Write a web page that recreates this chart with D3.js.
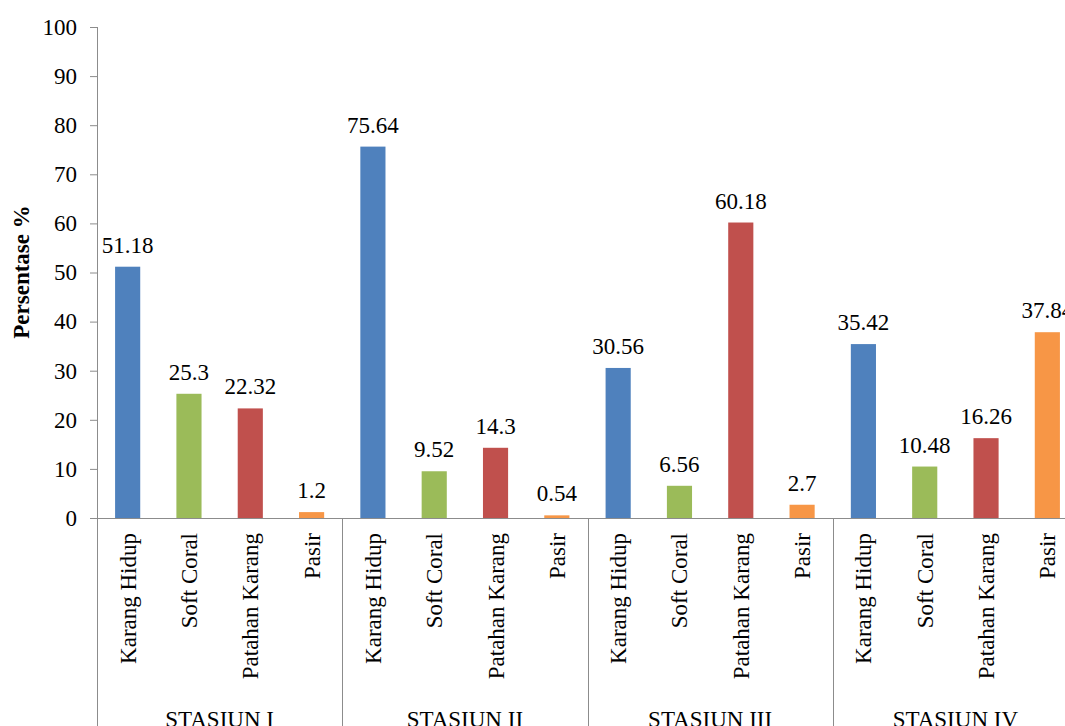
<!DOCTYPE html>
<html>
<head>
<meta charset="utf-8">
<script src="https://cdn.jsdelivr.net/npm/d3@7"></script>
<style>
html,body{margin:0;padding:0;background:#fff;overflow:hidden;}
svg{display:block;}
</style>
</head>
<body>
<svg id="chart" width="1065" height="726"></svg>
<script>
const stations = ["STASIUN I", "STASIUN II", "STASIUN III", "STASIUN IV"];
const categories = ["Karang Hidup", "Soft Coral", "Patahan Karang", "Pasir"];
const karangHidup = [51.18, 75.64, 30.56, 35.42];
const softCoral = [25.3, 9.52, 6.56, 10.48];
const patahanKarang = [22.32, 14.3, 60.18, 16.26];
const pasir = [1.2, 0.54, 2.7, 37.84];
const yTicks = [0, 10, 20, 30, 40, 50, 60, 70, 80, 90, 100];
const colors = ["#4F81BD", "#9BBB59", "#C0504D", "#F79646"];

const FONT = '"Liberation Serif","Times New Roman",serif';
const series = [karangHidup, softCoral, patahanKarang, pasir];
const rows = [];
stations.forEach((s, i) => {
  categories.forEach((c, j) => {
    rows.push({station: s, category: c, value: series[j][i], ci: j});
  });
});

const svg = d3.select("#chart");
const mLeft = 97, mRight = 1078, mTop = 27, mBase = 518, mBottom = 726;

const x0 = d3.scaleBand().domain(stations).range([mLeft, mRight]).padding(0);
const x1 = d3.scaleBand().domain(categories).range([0, x0.bandwidth()])
  .paddingInner(0.59).paddingOuter(0.295);
const y = d3.scaleLinear().domain([0, 100]).range([mBase, mTop]);
const color = d3.scaleOrdinal().domain(categories).range(colors);

const axisColor = "#8c8c8c";

// Y axis
const yAxis = svg.append("g").attr("transform", `translate(${mLeft},0)`)
  .call(d3.axisLeft(y).tickValues(yTicks).tickSize(7).tickPadding(13).tickFormat(d3.format("d")));
yAxis.attr("font-family", null).attr("font-size", null);
yAxis.select(".domain").remove();
yAxis.selectAll(".tick line").attr("stroke", axisColor);
yAxis.selectAll(".tick text").attr("fill", "#000").style("font-size", "23px")
  .style("font-family", FONT);

// vertical axis line
svg.append("line").attr("x1", mLeft + 0.5).attr("x2", mLeft + 0.5)
  .attr("y1", y(100)).attr("y2", mBottom).attr("stroke", axisColor).attr("stroke-width", 1);

// Bars
const g = svg.append("g");
g.selectAll("rect").data(rows).enter().append("rect")
  .attr("x", d => x0(d.station) + x1(d.category))
  .attr("y", d => y(d.value))
  .attr("width", x1.bandwidth())
  .attr("height", d => mBase - y(d.value))
  .attr("fill", d => color(d.category));

// Data labels
g.selectAll("text.val").data(rows).enter().append("text")
  .attr("class", "val")
  .attr("x", d => x0(d.station) + x1(d.category) + x1.bandwidth() / 2)
  .attr("y", d => y(d.value) - 14)
  .attr("text-anchor", "middle")
  .style("font-family", FONT)
  .style("font-size", "23px")
  .attr("fill", "#000")
  .text(d => String(d.value));

// X axis line
svg.append("line").attr("x1", mLeft).attr("x2", mRight)
  .attr("y1", mBase + 0.5).attr("y2", mBase + 0.5).attr("stroke", axisColor);

// Group separators
stations.forEach(s => {
  const xe = x0(s) + x0.bandwidth();
  svg.append("line").attr("x1", Math.round(xe) + 0.5).attr("x2", Math.round(xe) + 0.5)
    .attr("y1", mBase).attr("y2", mBottom).attr("stroke", axisColor);
});

// Category labels
g.selectAll("text.cat").data(rows).enter().append("text")
  .attr("class", "cat")
  .attr("transform", d => `translate(${x0(d.station) + x1(d.category) + x1.bandwidth() / 2 + 8},${mBase + 15}) rotate(-90)`)
  .attr("text-anchor", "end")
  .style("font-family", FONT)
  .style("font-size", "23px")
  .attr("fill", "#000")
  .text(d => d.category);

// Station labels
svg.selectAll("text.st").data(stations).enter().append("text")
  .attr("class", "st")
  .attr("x", d => x0(d) + x0.bandwidth() / 2)
  .attr("y", 727)
  .attr("text-anchor", "middle")
  .style("font-family", FONT)
  .style("font-size", "23px")
  .attr("fill", "#000")
  .text(d => d);

// Y label
svg.append("text")
  .attr("transform", `translate(29,272) rotate(-90)`)
  .attr("text-anchor", "middle")
  .style("font-family", FONT)
  .style("font-size", "23px")
  .style("font-weight", "bold")
  .attr("fill", "#000")
  .text("Persentase %");
</script>
</body>
</html>
